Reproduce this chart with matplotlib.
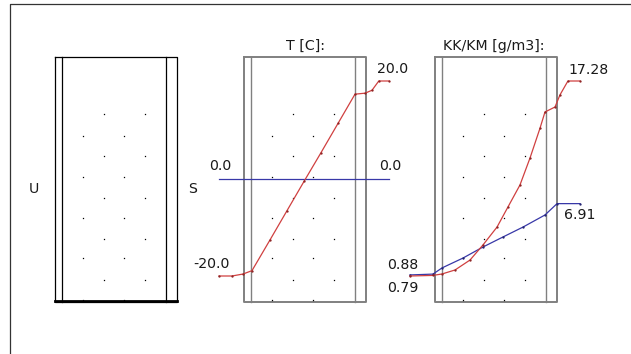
import numpy as np
import matplotlib
matplotlib.use('Agg')
import matplotlib.pyplot as plt

# T [C] profile (position along the section 0..1)
t_pos = [0.0, 0.076, 0.141, 0.194, 0.30, 0.40, 0.50, 0.60, 0.70, 0.80, 0.859, 0.90, 0.94, 1.0]
t_red = [-20.0, -20.0, -19.6, -18.9, -12.6, -6.6, -0.6, 5.3, 11.3, 17.3, 17.5, 18.1, 20.0, 20.0]
t_blue_pos = [0.0, 1.0]
t_blue = [0.0, 0.0]

# KK/KM [g/m3] profiles
kk_red_pos = [0.0, 0.135, 0.188, 0.265, 0.353, 0.429, 0.512, 0.576, 0.647, 0.706,
              0.765, 0.794, 0.853, 0.882, 0.929, 1.0]
kk_red = [0.79, 0.84, 0.96, 1.30, 2.14, 3.41, 4.93, 6.62, 8.49, 10.77,
          13.30, 14.66, 15.08, 16.10, 17.28, 17.28]
kk_blue_pos = [0.0, 0.135, 0.188, 0.312, 0.429, 0.547, 0.665, 0.794, 0.865, 1.0]
kk_blue = [0.88, 0.95, 1.47, 2.31, 3.24, 4.09, 4.93, 5.95, 6.91, 6.91]

titles = ['T [C]:', 'KK/KM [g/m3]:']

RED = '#d04040'
BLUE = '#3838a8'
W, H = 631, 354

plt.rcParams['font.family'] = ['DejaVu Sans']
fig = plt.figure(figsize=(W / 100, H / 100), dpi=100)
fig.patch.set_facecolor('white')

# background layer in pixel units for frame and boxes
bg = fig.add_axes([0, 0, 1, 1])
bg.set_xlim(0, W)
bg.set_ylim(H, 0)
bg.axis('off')

bg.plot([9.5, 9.5, W + 5], [H + 5, 3.5, 3.5], color='#333333', lw=0.9)


def draw_box(x0, color, outer_lw, inner_lw, thick_bottom=False):
    x1 = x0 + 122
    y0, y1 = 56.5, 301.5
    bg.plot([x0, x1, x1, x0, x0], [y0, y0, y1, y1, y0], color=color, lw=outer_lw)
    bg.plot([x0 + 7.5, x0 + 7.5], [y0, y1], color=color, lw=inner_lw)
    bg.plot([x1 - 10.5, x1 - 10.5], [y0, y1], color=color, lw=inner_lw)
    if thick_bottom:
        bg.plot([x0, x1], [y1 - 0.5, y1 - 0.5], color='black', lw=2.0)
    # dotted grid
    for r in [114, 156, 198, 239, 280]:
        for c in [49, 90]:
            bg.plot(x0 + c, r, 's', ms=0.9, color='black', mew=0)
    for r in [136, 177, 218, 258, 300]:
        for c in [28, 69]:
            bg.plot(x0 + c, r, 's', ms=0.9, color='black', mew=0)


draw_box(54.5, 'black', 0.9, 0.9, thick_bottom=True)
draw_box(243.5, '#808080', 1.4, 1.0)
draw_box(434.5, '#808080', 1.4, 1.0)

fs = 10.2
tc = '#1a1a1a'
bg.text(34, 189, 'U', ha='center', va='center', fontsize=fs, color=tc)
bg.text(193, 189, 'S', ha='center', va='center', fontsize=fs, color=tc)
bg.text(305, 46, titles[0], ha='center', va='center', fontsize=fs, color=tc)
bg.text(494, 46, titles[1], ha='center', va='center', fontsize=fs, color=tc)

# data axes: profiles drawn across the boxes
y_top, y_bot = 81, 276
ax_t = fig.add_axes([219 / W, (H - y_bot) / H, 170 / W, (y_bot - y_top) / H])
ax_k = fig.add_axes([410 / W, (H - y_bot) / H, 170 / W, (y_bot - y_top) / H])
for ax in (ax_t, ax_k):
    ax.set_xlim(0, 1)
    ax.axis('off')
    ax.patch.set_alpha(0)
ax_t.set_ylim(-20, 20)
ax_k.set_ylim(min(kk_red[0], kk_blue[0]), max(kk_red[-1], kk_blue[-1]))

mk = dict(marker='.', ms=1.3)
ax_t.plot(t_blue_pos, t_blue, color=BLUE, lw=0.9, clip_on=False)
ax_t.plot(t_pos, t_red, color=RED, lw=0.9, mfc='#8c2020', mec='#8c2020',
          clip_on=False, **mk)
ax_k.plot(kk_blue_pos, kk_blue, color=BLUE, lw=0.9, mfc='#202070', mec='#202070',
          clip_on=False, **mk)
ax_k.plot(kk_red_pos, kk_red, color=RED, lw=0.9, mfc='#8c2020', mec='#8c2020',
          clip_on=False, **mk)


def label(ax, x, y, txt, dx, dy):
    ax.annotate(txt, (x, y), xytext=(dx, dy), textcoords='offset pixels',
                ha='center', va='center', fontsize=fs, color=tc,
                annotation_clip=False)


label(ax_t, t_pos[0], t_red[0], '%.1f' % t_red[0], -8, 12)
label(ax_t, t_pos[-1], t_red[-1], '%.1f' % t_red[-1], 4, 12)
label(ax_t, t_blue_pos[0], t_blue[0], '%.1f' % t_blue[0], 1, 12)
label(ax_t, t_blue_pos[-1], t_blue[-1], '%.1f' % t_blue[-1], 1, 12)
label(ax_k, kk_red_pos[0], kk_red[0], '%.2f' % kk_red[0], -7, -12)
label(ax_k, kk_blue_pos[0], kk_blue[0], '%.2f' % kk_blue[0], -7, 10)
label(ax_k, kk_red_pos[-1], kk_red[-1], '%.2f' % kk_red[-1], 9, 11)
label(ax_k, kk_blue_pos[-1], kk_blue[-1], '%.2f' % kk_blue[-1], 0, -11)

fig.savefig('out.png', dpi=100, facecolor='white')
